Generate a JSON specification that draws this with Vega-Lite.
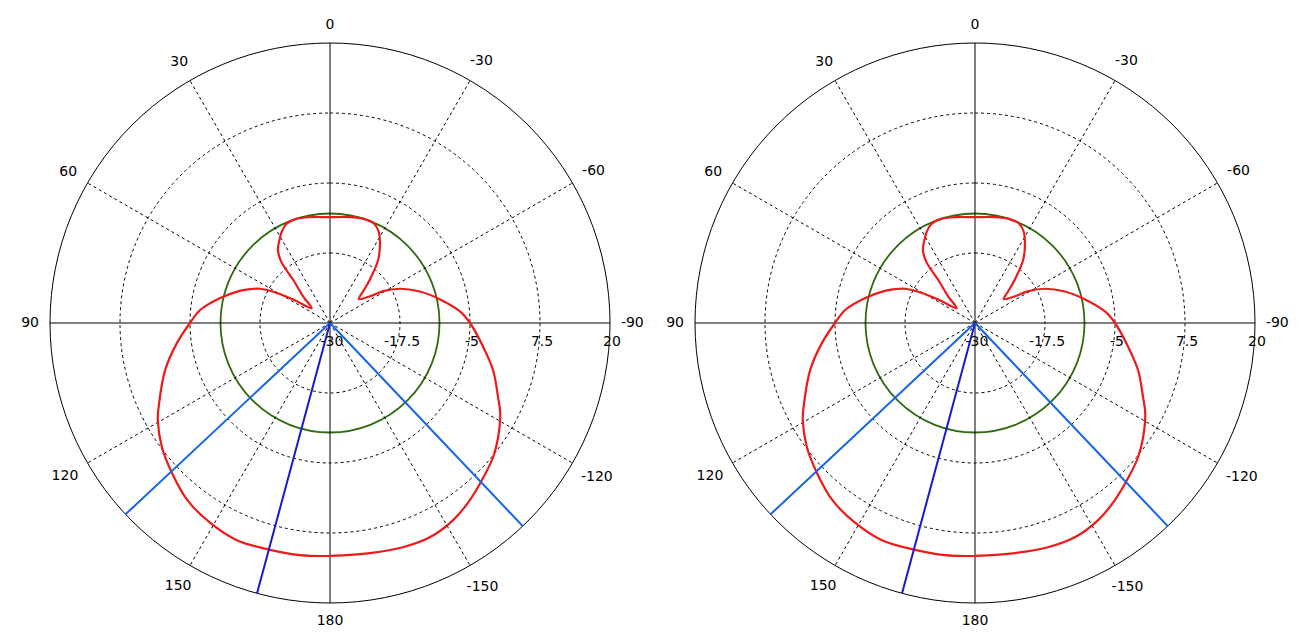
{
  "$schema": "https://vega.github.io/schema/vega-lite/v6.json",
  "autosize": {"type": "pad"},
  "padding": {"left": 8, "top": 1, "right": 0, "bottom": 0},
  "background": "white",
  "spacing": 1,
  "config": {"view": {"stroke": null, "fill": "white"}, "text": {"font": "DejaVu Sans", "fontSize": 14, "color": "#000000"}},
  "datasets": {
    "rings": [{"db": -17.5}, {"db": -5}, {"db": 7.5}],
    "outer": [{"db": 20}],
    "green": [{"db": -10.45}],
    "spokes": [
      {"angle": 30, "db": -30}, {"angle": 30, "db": 20}, {"angle": 60, "db": -30}, {"angle": 60, "db": 20},
      {"angle": 120, "db": -30}, {"angle": 120, "db": 20}, {"angle": 150, "db": -30}, {"angle": 150, "db": 20},
      {"angle": -30, "db": -30}, {"angle": -30, "db": 20}, {"angle": -60, "db": -30}, {"angle": -60, "db": 20},
      {"angle": -120, "db": -30}, {"angle": -120, "db": 20}, {"angle": -150, "db": -30}, {"angle": -150, "db": 20}
    ],
    "axes": [
      {"angle": 0, "db": -30}, {"angle": 0, "db": 20}, {"angle": 90, "db": -30}, {"angle": 90, "db": 20},
      {"angle": 180, "db": -30}, {"angle": 180, "db": 20}, {"angle": -90, "db": -30}, {"angle": -90, "db": 20}
    ],
    "beams": [
      {"angle": 133.1, "db": -30, "kind": "side"}, {"angle": 133.1, "db": 20, "kind": "side"},
      {"angle": 164.9, "db": -30, "kind": "main"}, {"angle": 164.9, "db": 20, "kind": "main"},
      {"angle": -136.5, "db": -30, "kind": "side"}, {"angle": -136.5, "db": 20, "kind": "side"}
    ],
    "rlabels": [{"angle": -90, "db": -30, "label": "-30"}, {"angle": -90, "db": -17.5, "label": "-17.5"}, {"angle": -90, "db": -5, "label": "-5"}, {"angle": -90, "db": 7.5, "label": "7.5"}, {"angle": -90, "db": 20, "label": "20"}],
    "alabels": [{"angle": 0, "label": "0"}, {"angle": 30, "label": "30"}, {"angle": 60, "label": "60"}, {"angle": 90, "label": "90"}, {"angle": 120, "label": "120"}, {"angle": 150, "label": "150"}, {"angle": 180, "label": "180"}, {"angle": -30, "label": "-30"}, {"angle": -60, "label": "-60"}, {"angle": -90, "label": "-90"}, {"angle": -120, "label": "-120"}, {"angle": -150, "label": "-150"}],
    "pattern": [
      {"angle": -180, "db": 11.6}, {"angle": -170.1, "db": 11.7}, {"angle": -162, "db": 12.1}, {"angle": -154.9, "db": 12.2},
      {"angle": -148, "db": 11.5}, {"angle": -141.7, "db": 10.3}, {"angle": -134.8, "db": 8.8}, {"angle": -129.4, "db": 7.7},
      {"angle": -124.2, "db": 6.3}, {"angle": -117.9, "db": 4.4}, {"angle": -113.8, "db": 2.8}, {"angle": -106.1, "db": 0.3},
      {"angle": -98.9, "db": -2.3}, {"angle": -90, "db": -5.0}, {"angle": -84.9, "db": -6.7}, {"angle": -77.9, "db": -9.9},
      {"angle": -70.7, "db": -13.0}, {"angle": -63.9, "db": -16.1}, {"angle": -59.2, "db": -18.9}, {"angle": -56.2, "db": -21.4},
      {"angle": -50.2, "db": -23.3}, {"angle": -46.3, "db": -21.8}, {"angle": -42.6, "db": -19.5}, {"angle": -37.3, "db": -15.8},
      {"angle": -32.5, "db": -13.4}, {"angle": -28, "db": -11.5}, {"angle": -24, "db": -10.6}, {"angle": -18, "db": -10.45},
      {"angle": -10, "db": -10.8}, {"angle": 0, "db": -11.1}, {"angle": 10, "db": -10.8}, {"angle": 18, "db": -10.45},
      {"angle": 24, "db": -10.7}, {"angle": 28, "db": -11.6}, {"angle": 30.5, "db": -12.4}, {"angle": 35.3, "db": -13.9},
      {"angle": 38.5, "db": -16.0}, {"angle": 40.5, "db": -19.9}, {"angle": 45.4, "db": -23.3}, {"angle": 51.2, "db": -25.8},
      {"angle": 57.4, "db": -22.2}, {"angle": 60.5, "db": -19.1}, {"angle": 63.9, "db": -16.1}, {"angle": 67, "db": -14.5},
      {"angle": 70.4, "db": -12.9}, {"angle": 77.2, "db": -9.9}, {"angle": 84.3, "db": -6.7}, {"angle": 90, "db": -5.0},
      {"angle": 97.4, "db": -2.45}, {"angle": 105.9, "db": 0.6}, {"angle": 115.1, "db": 3.7}, {"angle": 119.4, "db": 5.3},
      {"angle": 126.4, "db": 7.3}, {"angle": 133.5, "db": 8.9}, {"angle": 141.1, "db": 10.6}, {"angle": 149, "db": 11.6},
      {"angle": 156.8, "db": 12.2}, {"angle": 165.2, "db": 11.9}, {"angle": 172.6, "db": 11.8}, {"angle": 180, "db": 11.6}
    ]
  },
  "hconcat": [
    {
      "width": 644, "height": 644,
      "layer": [
        {"data": {"name": "rings"}, "transform": [{"calculate": "datum.db+30", "as": "u"}],
         "mark": {"type": "arc", "theta": 0, "theta2": 6.2832, "fill": "transparent", "stroke": "#000000", "strokeWidth": 1, "strokeDash": [3, 3]},
         "encoding": {"radius": {"field": "u", "type": "quantitative", "stack": null, "scale": {"type": "linear", "domain": [0, 50], "range": [0, 280], "zero": true, "nice": false}}}},
        {"data": {"name": "outer"}, "transform": [{"calculate": "datum.db+30", "as": "u"}],
         "mark": {"type": "arc", "theta": 0, "theta2": 6.2832, "fill": "transparent", "stroke": "#000000", "strokeWidth": 1},
         "encoding": {"radius": {"field": "u", "type": "quantitative", "stack": null, "scale": {"type": "linear", "domain": [0, 50], "range": [0, 280], "zero": true, "nice": false}}}},
        {"data": {"name": "green"}, "transform": [{"calculate": "datum.db+30", "as": "u"}],
         "mark": {"type": "arc", "theta": 0, "theta2": 6.2832, "fill": "transparent", "stroke": "#2f6a10", "strokeWidth": 1.8},
         "encoding": {"radius": {"field": "u", "type": "quantitative", "stack": null, "scale": {"type": "linear", "domain": [0, 50], "range": [0, 280], "zero": true, "nice": false}}}},
        {"data": {"name": "spokes"},
         "transform": [{"calculate": "-(datum.db+30)*sin(datum.angle*PI/180)", "as": "px"}, {"calculate": "(datum.db+30)*cos(datum.angle*PI/180)", "as": "py"}],
         "mark": {"type": "line", "color": "#000000", "strokeWidth": 1, "strokeDash": [3, 3]},
         "encoding": {"x": {"field": "px", "type": "quantitative", "scale": {"domain": [-57.5, 57.5], "nice": false, "zero": false}, "axis": null},
                      "y": {"field": "py", "type": "quantitative", "scale": {"domain": [-57.5, 57.5], "nice": false, "zero": false}, "axis": null},
                      "detail": {"field": "angle", "type": "nominal"},
                      "order": {"field": "db", "type": "quantitative"}}},
        {"data": {"name": "axes"},
         "transform": [{"calculate": "-(datum.db+30)*sin(datum.angle*PI/180)", "as": "px"}, {"calculate": "(datum.db+30)*cos(datum.angle*PI/180)", "as": "py"}],
         "mark": {"type": "line", "color": "#000000", "strokeWidth": 1},
         "encoding": {"x": {"field": "px", "type": "quantitative", "scale": {"domain": [-57.5, 57.5], "nice": false, "zero": false}, "axis": null},
                      "y": {"field": "py", "type": "quantitative", "scale": {"domain": [-57.5, 57.5], "nice": false, "zero": false}, "axis": null},
                      "detail": {"field": "angle", "type": "nominal"},
                      "order": {"field": "db", "type": "quantitative"}}},
        {"data": {"name": "pattern"},
         "transform": [{"calculate": "-(datum.db+30)*sin(datum.angle*PI/180)", "as": "px"}, {"calculate": "(datum.db+30)*cos(datum.angle*PI/180)", "as": "py"}],
         "mark": {"type": "line", "color": "#ee1a1a", "strokeWidth": 2.2, "strokeJoin": "round", "interpolate": "catmull-rom"},
         "encoding": {"x": {"field": "px", "type": "quantitative", "scale": {"domain": [-57.5, 57.5], "nice": false, "zero": false}, "axis": null},
                      "y": {"field": "py", "type": "quantitative", "scale": {"domain": [-57.5, 57.5], "nice": false, "zero": false}, "axis": null},
                      "order": {"field": "angle", "type": "quantitative"}}},
        {"data": {"name": "beams"},
         "transform": [{"calculate": "-(datum.db+30)*sin(datum.angle*PI/180)", "as": "px"}, {"calculate": "(datum.db+30)*cos(datum.angle*PI/180)", "as": "py"}],
         "mark": {"type": "line", "strokeWidth": 2},
         "encoding": {"x": {"field": "px", "type": "quantitative", "scale": {"domain": [-57.5, 57.5], "nice": false, "zero": false}, "axis": null},
                      "y": {"field": "py", "type": "quantitative", "scale": {"domain": [-57.5, 57.5], "nice": false, "zero": false}, "axis": null},
                      "detail": {"field": "angle", "type": "nominal"},
                      "order": {"field": "db", "type": "quantitative"},
                      "color": {"field": "kind", "type": "nominal", "scale": {"domain": ["side", "main"], "range": ["#1565e6", "#1a1acc"]}, "legend": null}}},
        {"data": {"name": "rlabels"},
         "transform": [{"calculate": "-(datum.db+30)*sin(datum.angle*PI/180)", "as": "px"}, {"calculate": "(datum.db+30)*cos(datum.angle*PI/180)", "as": "py"}],
         "mark": {"type": "text", "align": "center", "baseline": "middle", "dy": 19, "dx": 2},
         "encoding": {"x": {"field": "px", "type": "quantitative", "scale": {"domain": [-57.5, 57.5], "nice": false, "zero": false}, "axis": null},
                      "y": {"field": "py", "type": "quantitative", "scale": {"domain": [-57.5, 57.5], "nice": false, "zero": false}, "axis": null},
                      "text": {"field": "label", "type": "nominal"}}},
        {"data": {"name": "alabels"},
         "transform": [{"calculate": "(291 + (4.45*length(datum.label) - (indexof(datum.label, '-') == 0 ? 2 : 0))*abs(sin(datum.angle*PI/180)) + 7*abs(cos(datum.angle*PI/180)))/5.6", "as": "lr"},
                       {"calculate": "-datum.lr*sin(datum.angle*PI/180)", "as": "px"}, {"calculate": "datum.lr*cos(datum.angle*PI/180)", "as": "py"}],
         "mark": {"type": "text", "align": "center", "baseline": "middle"},
         "encoding": {"x": {"field": "px", "type": "quantitative", "scale": {"domain": [-57.5, 57.5], "nice": false, "zero": false}, "axis": null},
                      "y": {"field": "py", "type": "quantitative", "scale": {"domain": [-57.5, 57.5], "nice": false, "zero": false}, "axis": null},
                      "text": {"field": "label", "type": "nominal"}}}
      ]
    },
    {
      "width": 644, "height": 644,
      "layer": [
        {"data": {"name": "rings"}, "transform": [{"calculate": "datum.db+30", "as": "u"}],
         "mark": {"type": "arc", "theta": 0, "theta2": 6.2832, "fill": "transparent", "stroke": "#000000", "strokeWidth": 1, "strokeDash": [3, 3]},
         "encoding": {"radius": {"field": "u", "type": "quantitative", "stack": null, "scale": {"type": "linear", "domain": [0, 50], "range": [0, 280], "zero": true, "nice": false}}}},
        {"data": {"name": "outer"}, "transform": [{"calculate": "datum.db+30", "as": "u"}],
         "mark": {"type": "arc", "theta": 0, "theta2": 6.2832, "fill": "transparent", "stroke": "#000000", "strokeWidth": 1},
         "encoding": {"radius": {"field": "u", "type": "quantitative", "stack": null, "scale": {"type": "linear", "domain": [0, 50], "range": [0, 280], "zero": true, "nice": false}}}},
        {"data": {"name": "green"}, "transform": [{"calculate": "datum.db+30", "as": "u"}],
         "mark": {"type": "arc", "theta": 0, "theta2": 6.2832, "fill": "transparent", "stroke": "#2f6a10", "strokeWidth": 1.8},
         "encoding": {"radius": {"field": "u", "type": "quantitative", "stack": null, "scale": {"type": "linear", "domain": [0, 50], "range": [0, 280], "zero": true, "nice": false}}}},
        {"data": {"name": "spokes"},
         "transform": [{"calculate": "-(datum.db+30)*sin(datum.angle*PI/180)", "as": "px"}, {"calculate": "(datum.db+30)*cos(datum.angle*PI/180)", "as": "py"}],
         "mark": {"type": "line", "color": "#000000", "strokeWidth": 1, "strokeDash": [3, 3]},
         "encoding": {"x": {"field": "px", "type": "quantitative", "scale": {"domain": [-57.5, 57.5], "nice": false, "zero": false}, "axis": null},
                      "y": {"field": "py", "type": "quantitative", "scale": {"domain": [-57.5, 57.5], "nice": false, "zero": false}, "axis": null},
                      "detail": {"field": "angle", "type": "nominal"},
                      "order": {"field": "db", "type": "quantitative"}}},
        {"data": {"name": "axes"},
         "transform": [{"calculate": "-(datum.db+30)*sin(datum.angle*PI/180)", "as": "px"}, {"calculate": "(datum.db+30)*cos(datum.angle*PI/180)", "as": "py"}],
         "mark": {"type": "line", "color": "#000000", "strokeWidth": 1},
         "encoding": {"x": {"field": "px", "type": "quantitative", "scale": {"domain": [-57.5, 57.5], "nice": false, "zero": false}, "axis": null},
                      "y": {"field": "py", "type": "quantitative", "scale": {"domain": [-57.5, 57.5], "nice": false, "zero": false}, "axis": null},
                      "detail": {"field": "angle", "type": "nominal"},
                      "order": {"field": "db", "type": "quantitative"}}},
        {"data": {"name": "pattern"},
         "transform": [{"calculate": "-(datum.db+30)*sin(datum.angle*PI/180)", "as": "px"}, {"calculate": "(datum.db+30)*cos(datum.angle*PI/180)", "as": "py"}],
         "mark": {"type": "line", "color": "#ee1a1a", "strokeWidth": 2.2, "strokeJoin": "round", "interpolate": "catmull-rom"},
         "encoding": {"x": {"field": "px", "type": "quantitative", "scale": {"domain": [-57.5, 57.5], "nice": false, "zero": false}, "axis": null},
                      "y": {"field": "py", "type": "quantitative", "scale": {"domain": [-57.5, 57.5], "nice": false, "zero": false}, "axis": null},
                      "order": {"field": "angle", "type": "quantitative"}}},
        {"data": {"name": "beams"},
         "transform": [{"calculate": "-(datum.db+30)*sin(datum.angle*PI/180)", "as": "px"}, {"calculate": "(datum.db+30)*cos(datum.angle*PI/180)", "as": "py"}],
         "mark": {"type": "line", "strokeWidth": 2},
         "encoding": {"x": {"field": "px", "type": "quantitative", "scale": {"domain": [-57.5, 57.5], "nice": false, "zero": false}, "axis": null},
                      "y": {"field": "py", "type": "quantitative", "scale": {"domain": [-57.5, 57.5], "nice": false, "zero": false}, "axis": null},
                      "detail": {"field": "angle", "type": "nominal"},
                      "order": {"field": "db", "type": "quantitative"},
                      "color": {"field": "kind", "type": "nominal", "scale": {"domain": ["side", "main"], "range": ["#1565e6", "#1a1acc"]}, "legend": null}}},
        {"data": {"name": "rlabels"},
         "transform": [{"calculate": "-(datum.db+30)*sin(datum.angle*PI/180)", "as": "px"}, {"calculate": "(datum.db+30)*cos(datum.angle*PI/180)", "as": "py"}],
         "mark": {"type": "text", "align": "center", "baseline": "middle", "dy": 19, "dx": 2},
         "encoding": {"x": {"field": "px", "type": "quantitative", "scale": {"domain": [-57.5, 57.5], "nice": false, "zero": false}, "axis": null},
                      "y": {"field": "py", "type": "quantitative", "scale": {"domain": [-57.5, 57.5], "nice": false, "zero": false}, "axis": null},
                      "text": {"field": "label", "type": "nominal"}}},
        {"data": {"name": "alabels"},
         "transform": [{"calculate": "(291 + (4.45*length(datum.label) - (indexof(datum.label, '-') == 0 ? 2 : 0))*abs(sin(datum.angle*PI/180)) + 7*abs(cos(datum.angle*PI/180)))/5.6", "as": "lr"},
                       {"calculate": "-datum.lr*sin(datum.angle*PI/180)", "as": "px"}, {"calculate": "datum.lr*cos(datum.angle*PI/180)", "as": "py"}],
         "mark": {"type": "text", "align": "center", "baseline": "middle"},
         "encoding": {"x": {"field": "px", "type": "quantitative", "scale": {"domain": [-57.5, 57.5], "nice": false, "zero": false}, "axis": null},
                      "y": {"field": "py", "type": "quantitative", "scale": {"domain": [-57.5, 57.5], "nice": false, "zero": false}, "axis": null},
                      "text": {"field": "label", "type": "nominal"}}}
      ]
    }
  ]
}
